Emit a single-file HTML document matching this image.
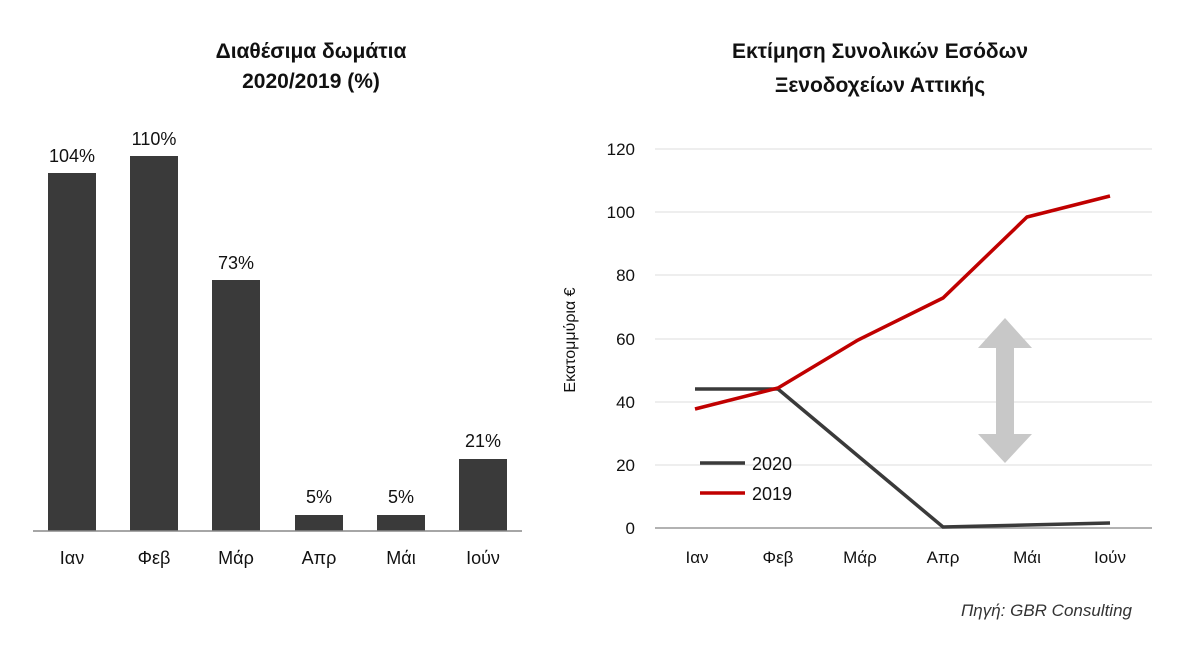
<!DOCTYPE html>
<html><head><meta charset="utf-8"><style>
body{margin:0;background:#fff;}
svg{display:block;font-family:"Liberation Sans",Arial,sans-serif;}
</style></head><body>
<svg width="1200" height="660" viewBox="0 0 1200 660">
<rect width="1200" height="660" fill="#fff"/>
<!-- Left chart -->
<text x="311" y="58" font-size="21" font-weight="bold" text-anchor="middle" fill="#111">Διαθέσιμα δωμάτια</text>
<text x="311" y="88" font-size="21" font-weight="bold" text-anchor="middle" fill="#111">2020/2019 (%)</text>
<g fill="#3a3a3a">
<rect x="48" y="173" width="48" height="358"/>
<rect x="130" y="156" width="48" height="375"/>
<rect x="212" y="280" width="48" height="251"/>
<rect x="295" y="515" width="48" height="16"/>
<rect x="377" y="515" width="48" height="16"/>
<rect x="459" y="459" width="48" height="72"/>
</g>
<line x1="33" y1="531" x2="522" y2="531" stroke="#888" stroke-width="1.5"/>
<g font-size="18" text-anchor="middle" fill="#111">
<text x="72" y="162">104%</text><text x="154" y="145">110%</text><text x="236" y="269">73%</text>
<text x="319" y="503">5%</text><text x="401" y="503">5%</text><text x="483" y="447">21%</text>
<text x="72" y="564">Ιαν</text><text x="154" y="564">Φεβ</text><text x="236" y="564">Μάρ</text>
<text x="319" y="564">Απρ</text><text x="401" y="564">Μάι</text><text x="483" y="564">Ιούν</text>
</g>
<!-- Right chart -->
<text x="880" y="58" font-size="21" font-weight="bold" text-anchor="middle" fill="#111">Εκτίμηση Συνολικών Εσόδων</text>
<text x="880" y="92" font-size="21" font-weight="bold" text-anchor="middle" fill="#111">Ξενοδοχείων Αττικής</text>
<g stroke="#ddd" stroke-width="1">
<line x1="655" y1="149" x2="1152" y2="149"/><line x1="655" y1="212" x2="1152" y2="212"/>
<line x1="655" y1="275" x2="1152" y2="275"/><line x1="655" y1="339" x2="1152" y2="339"/>
<line x1="655" y1="402" x2="1152" y2="402"/><line x1="655" y1="465" x2="1152" y2="465"/>
</g>
<line x1="655" y1="528" x2="1152" y2="528" stroke="#999" stroke-width="1.5"/>
<g font-size="17" text-anchor="end" fill="#111">
<text x="635" y="155">120</text><text x="635" y="218">100</text><text x="635" y="281">80</text>
<text x="635" y="345">60</text><text x="635" y="408">40</text><text x="635" y="471">20</text><text x="635" y="534">0</text>
</g>
<text transform="translate(575,340) rotate(-90)" font-size="16" text-anchor="middle" fill="#111">Εκατομμύρια €</text>
<g font-size="17" text-anchor="middle" fill="#111">
<text x="697" y="563">Ιαν</text><text x="778" y="563">Φεβ</text><text x="860" y="563">Μάρ</text>
<text x="943" y="563">Απρ</text><text x="1027" y="563">Μάι</text><text x="1110" y="563">Ιούν</text>
</g>
<polyline points="695,389 778,389 943,527 1110,523" fill="none" stroke="#3a3a3a" stroke-width="3.5"/>
<polyline points="695,409 778,388 858,340 943,298 1027,217 1110,196" fill="none" stroke="#c00000" stroke-width="3.5"/>
<polygon points="1005,318 1032,348 1014,348 1014,434 1032,434 1005,463 978,434 996,434 996,348 978,348" fill="#c8c8c8"/>
<line x1="700" y1="463" x2="745" y2="463" stroke="#3a3a3a" stroke-width="3.5"/>
<text x="752" y="470" font-size="18" fill="#111">2020</text>
<line x1="700" y1="493" x2="745" y2="493" stroke="#c00000" stroke-width="3.5"/>
<text x="752" y="500" font-size="18" fill="#111">2019</text>
<text x="1132" y="616" font-size="17" font-style="italic" text-anchor="end" fill="#333">Πηγή: GBR Consulting</text>
</svg>
</body></html>
